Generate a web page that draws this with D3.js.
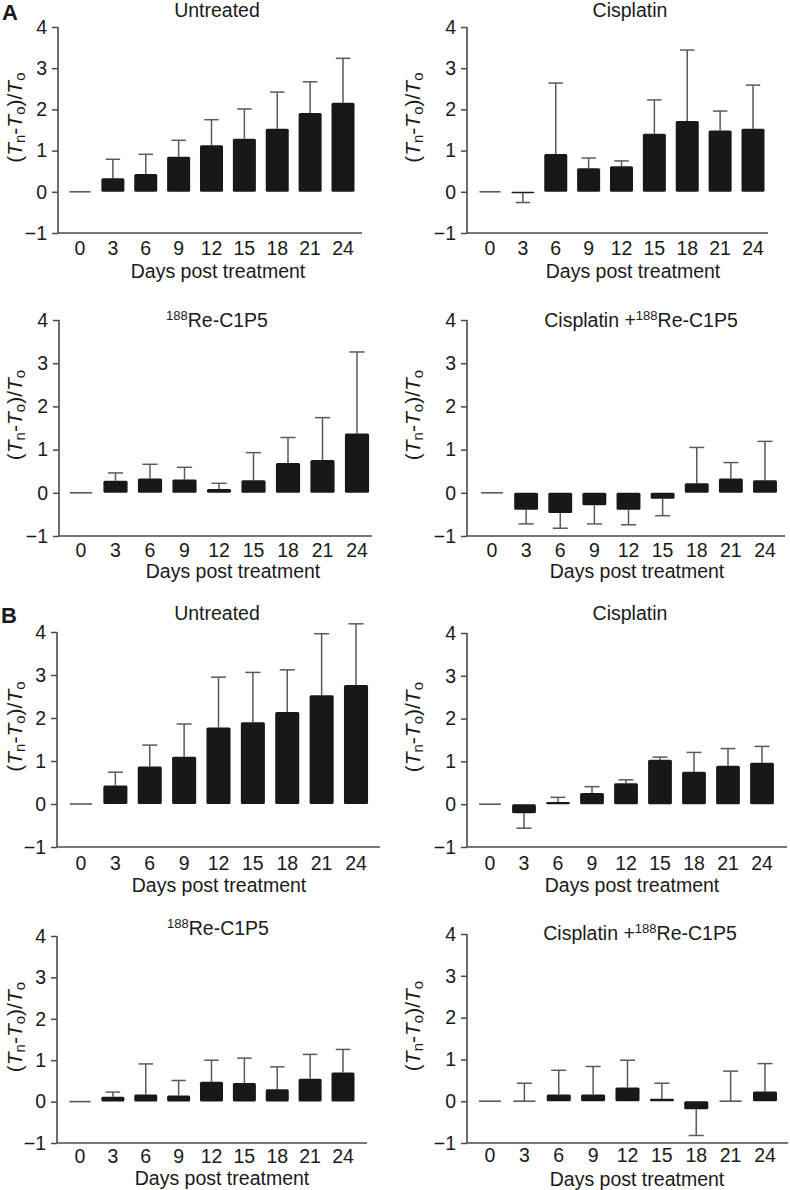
<!DOCTYPE html>
<html>
<head>
<meta charset="utf-8">
<script src="https://cdn.jsdelivr.net/npm/d3@7"></script>
<style>
  html, body { margin: 0; padding: 0; background: #fff; }
  svg { display: block; }
  text { font-family: "Liberation Sans", Arial, Helvetica, sans-serif; fill: #1a1a1a; }
</style>
</head>
<body>
<svg id="chart" width="790" height="1190"></svg>
<script>
// ---------- data ----------
const days = ["0", "3", "6", "9", "12", "15", "18", "21", "24"];
const yTicks = [4, 3, 2, 1, 0, -1];

// Panel A
const aUntreatedMean = [0, 0.33, 0.43, 0.85, 1.13, 1.29, 1.53, 1.91, 2.16];
const aUntreatedSd   = [0, 0.46, 0.48, 0.40, 0.62, 0.72, 0.89, 0.76, 1.08];
const aCisMean = [0, -0.03, 0.92, 0.57, 0.62, 1.41, 1.72, 1.49, 1.53];
const aCisSd   = [0, 0.23, 1.72, 0.25, 0.13, 0.82, 1.72, 0.47, 1.06];
const aReMean = [0, 0.28, 0.33, 0.31, 0.09, 0.29, 0.69, 0.76, 1.37];
const aReSd   = [0, 0.18, 0.33, 0.28, 0.13, 0.64, 0.59, 0.98, 1.89];
const aCisReMean = [0, -0.39, -0.47, -0.29, -0.39, -0.14, 0.22, 0.33, 0.29];
const aCisReSd   = [0, 0.33, 0.35, 0.43, 0.35, 0.39, 0.83, 0.37, 0.90];

// Panel B
const bUntreatedMean = [0, 0.43, 0.87, 1.10, 1.78, 1.90, 2.14, 2.53, 2.77];
const bUntreatedSd   = [0, 0.31, 0.50, 0.76, 1.17, 1.16, 0.98, 1.43, 1.42];
const bCisMean = [0, -0.21, 0.05, 0.26, 0.49, 1.04, 0.76, 0.90, 0.97];
const bCisSd   = [0, 0.35, 0.11, 0.15, 0.08, 0.06, 0.45, 0.40, 0.38];
const bReMean = [0, 0.12, 0.17, 0.15, 0.48, 0.45, 0.30, 0.55, 0.70];
const bReSd   = [0, 0.11, 0.74, 0.36, 0.52, 0.60, 0.54, 0.59, 0.56];
const bCisReMean = [0, 0, 0.16, 0.16, 0.33, 0.06, -0.19, 0, 0.23];
const bCisReSd   = [0, 0.43, 0.58, 0.67, 0.65, 0.37, 0.63, 0.72, 0.67];

const xLabel = "Days post treatment";

// ---------- layout (positions only) ----------
const panels = [
  { title: ["Untreated"], mean: aUntreatedMean, sd: aUntreatedSd,
    axisX: 58, c0: 80, c1: 343, xEnd: 362, yTop: 27, yBot: 233,
    titleX: 217, titleY: 17, tickY: 255, xLabX: 218, xLabY: 278, yLabX: 14 },
  { title: ["Cisplatin"], mean: aCisMean, sd: aCisSd,
    axisX: 467, c0: 490, c1: 753, xEnd: 768, yTop: 27, yBot: 233,
    titleX: 630, titleY: 17, tickY: 255, xLabX: 633, xLabY: 278, yLabX: 412 },
  { title: ["", "188", "Re-C1P5"], mean: aReMean, sd: aReSd,
    axisX: 59, c0: 81, c1: 357, xEnd: 372, yTop: 320, yBot: 536,
    titleX: 217, titleY: 327, tickY: 557, xLabX: 233, xLabY: 578, yLabX: 14 },
  { title: ["Cisplatin +", "188", "Re-C1P5"], mean: aCisReMean, sd: aCisReSd,
    axisX: 467, c0: 492, c1: 765, xEnd: 785, yTop: 320, yBot: 536,
    titleX: 641, titleY: 327, tickY: 557, xLabX: 637, xLabY: 578, yLabX: 412 },
  { title: ["Untreated"], mean: bUntreatedMean, sd: bUntreatedSd,
    axisX: 57, c0: 81, c1: 356, xEnd: 380, yTop: 632, yBot: 847,
    titleX: 217, titleY: 620, tickY: 870, xLabX: 219, xLabY: 892, yLabX: 14 },
  { title: ["Cisplatin"], mean: bCisMean, sd: bCisSd,
    axisX: 467, c0: 490, c1: 762, xEnd: 787, yTop: 633, yBot: 847,
    titleX: 630, titleY: 620, tickY: 870, xLabX: 632, xLabY: 892, yLabX: 412 },
  { title: ["", "188", "Re-C1P5"], mean: bReMean, sd: bReSd,
    axisX: 57, c0: 80, c1: 343, xEnd: 367, yTop: 936, yBot: 1143,
    titleX: 218, titleY: 935, tickY: 1163, xLabX: 222, xLabY: 1185, yLabX: 14 },
  { title: ["Cisplatin +", "188", "Re-C1P5"], mean: bCisReMean, sd: bCisReSd,
    axisX: 467, c0: 490, c1: 765, xEnd: 788, yTop: 934, yBot: 1143,
    titleX: 640, titleY: 940, tickY: 1162, xLabX: 637, xLabY: 1186, yLabX: 412 }
];

const svg = d3.select("#chart");
const FS = 19.5;
const barColor = "#181818";
const lineColor = "#5a5a5a";
const axisColor = "#4a4a4a";

panels.forEach(p => {
  const g = svg.append("g");
  const y = d3.scaleLinear().domain([-1, 4]).range([p.yBot, p.yTop]);
  const x = d3.scalePoint().domain(days).range([p.c0, p.c1]);
  const bw = x.step() * 0.70;
  const capW = x.step() * 0.44;

  // y axis
  const yAxis = d3.axisLeft(y).tickValues(yTicks).tickSize(6).tickPadding(5)
    .tickFormat(d => d < 0 ? "\u2212" + Math.abs(d) : String(d));
  const ya = g.append("g").attr("transform", `translate(${p.axisX},0)`).call(yAxis);
  ya.select(".domain").remove();
  ya.selectAll(".tick line").attr("stroke", axisColor).attr("stroke-width", 1.5);
  ya.selectAll(".tick text").attr("font-size", FS).attr("fill", "#1a1a1a")
    .style("font-family", '"Liberation Sans", Arial, sans-serif');
  g.append("line").attr("x1", p.axisX).attr("x2", p.axisX)
    .attr("y1", y(4)).attr("y2", y(-1))
    .attr("stroke", axisColor).attr("stroke-width", 1.6);
  // x axis baseline at -1
  g.append("line").attr("x1", p.axisX).attr("x2", p.xEnd)
    .attr("y1", y(-1)).attr("y2", y(-1))
    .attr("stroke", axisColor).attr("stroke-width", 1.6);

  // x tick labels
  g.append("g").selectAll("text").data(days).join("text")
    .attr("x", d => x(d)).attr("y", p.tickY)
    .attr("text-anchor", "middle").attr("font-size", FS).text(d => d);

  // x label
  g.append("text").attr("x", p.xLabX).attr("y", p.xLabY)
    .attr("text-anchor", "middle").attr("font-size", FS).text(xLabel);

  // title
  const t = g.append("text").attr("x", p.titleX).attr("y", p.titleY)
    .attr("text-anchor", "middle").attr("font-size", FS);
  if (p.title.length === 1) {
    t.text(p.title[0]);
  } else {
    if (p.title[0]) t.append("tspan").text(p.title[0]);
    t.append("tspan").attr("font-size", 13).attr("dy", -7).text(p.title[1]);
    t.append("tspan").attr("dy", 7).text(p.title[2]);
  }

  // y label
  const yl = g.append("text")
    .attr("transform", `translate(${p.yLabX},${y(1.8)}) rotate(-90)`)
    .attr("text-anchor", "middle").attr("dominant-baseline", "central")
    .attr("font-size", 21);
  yl.append("tspan").text("(");
  yl.append("tspan").attr("font-style", "italic").text("T");
  yl.append("tspan").attr("font-size", 15).attr("dy", 5).text("n");
  yl.append("tspan").attr("dy", -5).text("-");
  yl.append("tspan").attr("font-style", "italic").text("T");
  yl.append("tspan").attr("font-size", 15).attr("dy", 5).text("o");
  yl.append("tspan").attr("dy", -5).text(")/");
  yl.append("tspan").attr("font-style", "italic").text("T");
  yl.append("tspan").attr("font-size", 15).attr("dy", 5).text("o");

  const data = days.map((d, i) => ({ day: d, m: p.mean[i], s: p.sd[i] }));

  // error bars (drawn away from zero)
  const eb = g.append("g").selectAll("g").data(data.filter(d => d.s > 0)).join("g");
  eb.append("line")
    .attr("x1", d => x(d.day)).attr("x2", d => x(d.day))
    .attr("y1", d => y(d.m))
    .attr("y2", d => y(d.m < 0 ? d.m - d.s : d.m + d.s))
    .attr("stroke", lineColor).attr("stroke-width", 1.5);
  eb.append("line")
    .attr("x1", d => x(d.day) - capW / 2).attr("x2", d => x(d.day) + capW / 2)
    .attr("y1", d => y(d.m < 0 ? d.m - d.s : d.m + d.s))
    .attr("y2", d => y(d.m < 0 ? d.m - d.s : d.m + d.s))
    .attr("stroke", lineColor).attr("stroke-width", 1.5);

  // bars
  g.append("g").selectAll("rect").data(data.filter(d => d.m !== 0)).join("rect")
    .attr("x", d => x(d.day) - bw / 2).attr("width", bw)
    .attr("y", d => Math.min(y(d.m), y(0)))
    .attr("height", d => Math.max(1.5, Math.abs(y(d.m) - y(0))))
    .attr("rx", 1.5)
    .attr("fill", barColor);

  // zero-valued means as flat lines
  g.append("g").selectAll("line").data(data.filter(d => d.m === 0)).join("line")
    .attr("x1", d => x(d.day) - bw / 2 + 1).attr("x2", d => x(d.day) + bw / 2 - 1)
    .attr("y1", y(0)).attr("y2", y(0))
    .attr("stroke", lineColor).attr("stroke-width", 1.6);
});

// panel letters
svg.append("text").attr("x", 2).attr("y", 20).attr("font-size", 22)
  .attr("font-weight", "bold").text("A");
svg.append("text").attr("x", 1).attr("y", 623).attr("font-size", 22)
  .attr("font-weight", "bold").text("B");
</script>
</body>
</html>
